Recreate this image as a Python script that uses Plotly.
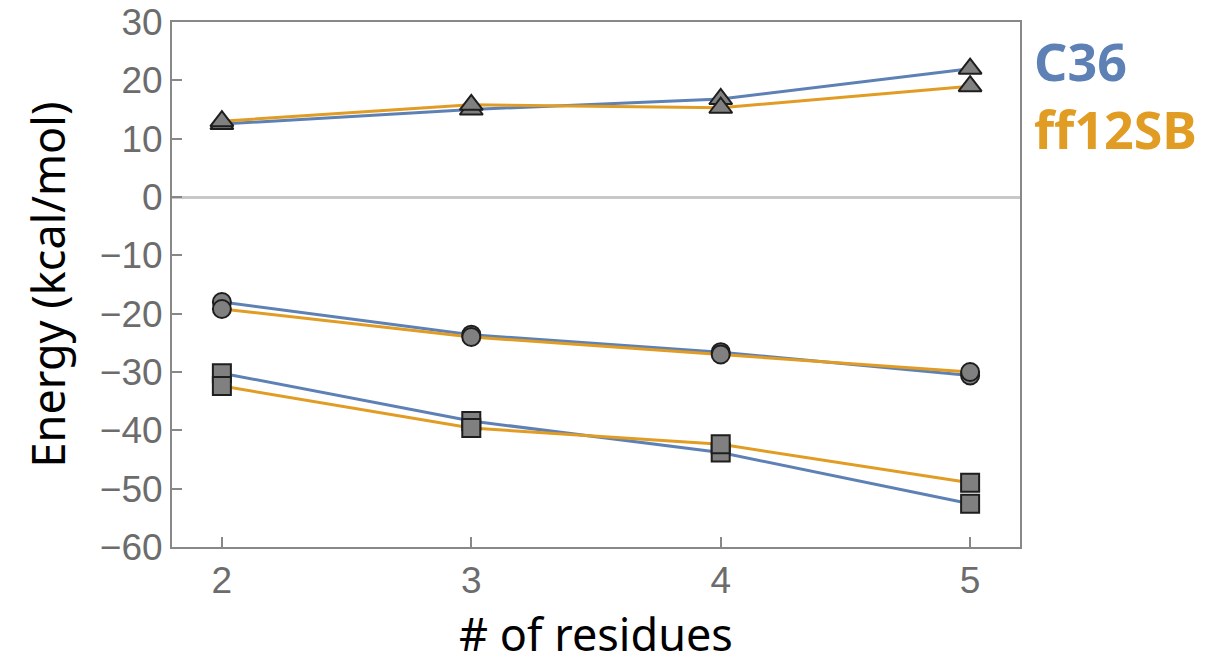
import plotly.graph_objects as go

residues = [2, 3, 4, 5]
c36_tri = [12.5, 15.0, 16.8, 22.0]
ff_tri = [13.0, 15.8, 15.3, 19.0]
c36_circ = [-18.0, -23.6, -26.6, -30.6]
ff_circ = [-19.2, -24.0, -27.0, -30.0]
c36_sq = [-30.2, -38.4, -43.8, -52.6]
ff_sq = [-32.4, -39.6, -42.4, -49.0]

BLUE = "#5E81B5"
ORANGE = "#E19C24"
MFILL = "#808080"
MLINE = "#1e1e1e"

fig = go.Figure()

series = [
    (c36_tri, BLUE, "triangle-up", 20),
    (ff_tri, ORANGE, "triangle-up", 20),
    (c36_circ, BLUE, "circle", 18),
    (ff_circ, ORANGE, "circle", 18),
    (c36_sq, BLUE, "square", 18),
    (ff_sq, ORANGE, "square", 18),
]

for ys, col, sym, sz in series:
    fig.add_trace(go.Scatter(x=residues, y=ys, mode="lines",
                             line=dict(color=col, width=3),
                             showlegend=False, hoverinfo="skip"))
for ys, col, sym, sz in series:
    fig.add_trace(go.Scatter(x=residues, y=ys, mode="markers",
                             marker=dict(symbol=sym, size=sz, color=MFILL,
                                         line=dict(color=MLINE, width=2)),
                             showlegend=False))

tickfont = dict(family="Liberation Sans, Arial, sans-serif", size=37, color="#6c6c6c")
titlefont = dict(family="Noto Sans, sans-serif", size=45, color="black")
fig.update_layout(
    width=1216, height=664,
    margin=dict(l=172, r=196, t=22, b=117),
    plot_bgcolor="white", paper_bgcolor="white",
    showlegend=False,
    xaxis=dict(range=[1.8, 5.2], tickvals=residues, ticks="inside", ticklen=10,
               tickcolor="#888888", tickwidth=1.5, automargin=False,
               showline=True, linecolor="#888888", linewidth=2, mirror=True,
               showgrid=False, zeroline=False, tickfont=tickfont,
               title=dict(text="# of residues", standoff=19, font=titlefont)),
    yaxis=dict(range=[-60, 30], dtick=10, ticks="inside", ticklen=10,
               tickcolor="#888888", tickwidth=1.5, automargin=False,
               showline=True, linecolor="#888888", linewidth=2, mirror=True,
               showgrid=False, zeroline=True, zerolinecolor="#c8c8c8", zerolinewidth=2.5,
               tickfont=tickfont, tickformat="d",
               title=dict(text="Energy (kcal/mol)", standoff=20, font=titlefont)),
)

legend_text = ("<b><span style='color:%s'>C36</span><br>"
               "<span style='color:%s'>ff12SB</span></b>" % (BLUE, ORANGE))
fig.add_annotation(x=1.0, xref="paper", y=0.862, yref="paper", text=legend_text,
                   showarrow=False, xanchor="left", yanchor="middle", align="left",
                   xshift=12,
                   font=dict(family="Noto Sans, sans-serif", size=52, color=BLUE))

fig.write_html("out.html")
